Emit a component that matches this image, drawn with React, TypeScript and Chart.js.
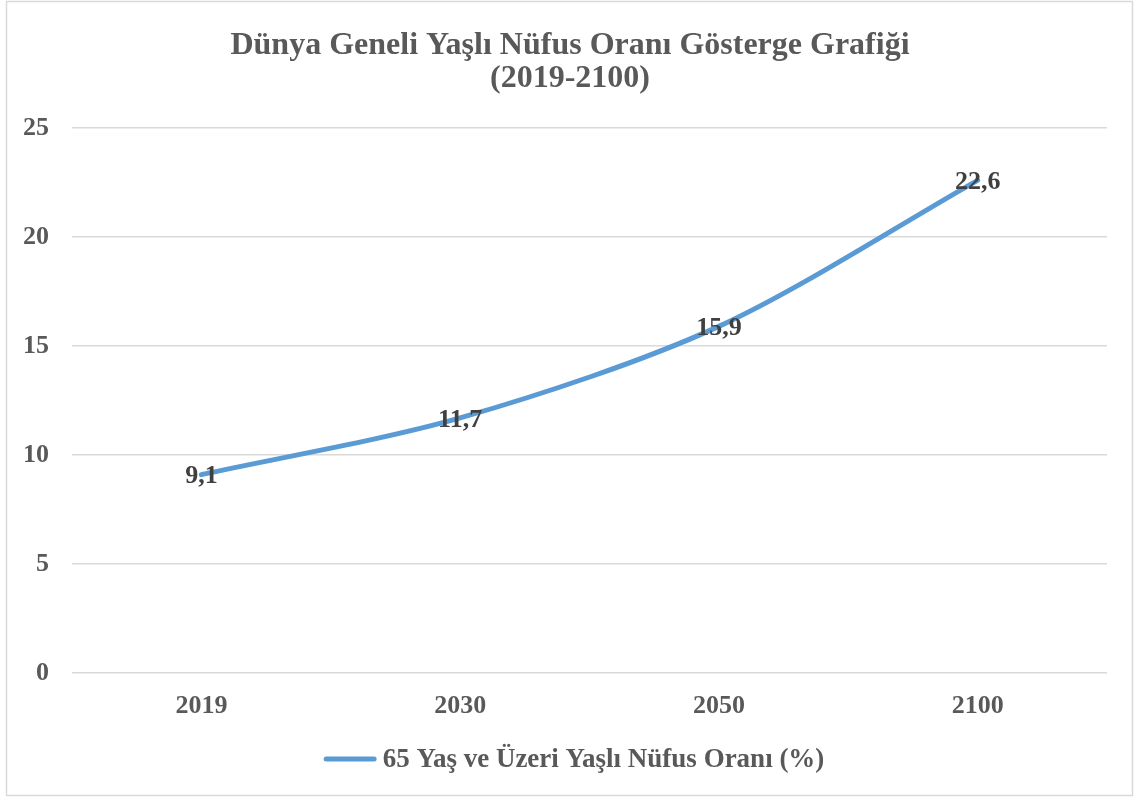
import { useEffect, useRef } from "react";
import { Chart, registerables } from "chart.js";

Chart.register(...registerables);

const years = ["2019", "2030", "2050", "2100"];
const elderlyShare = [9.1, 11.7, 15.9, 22.6];
const yTickValues = [0, 5, 10, 15, 20, 25];
const titleLines = ["Dünya Geneli Yaşlı Nüfus Oranı Gösterge Grafiği", "(2019-2100)"];
const seriesName = "65 Yaş ve Üzeri Yaşlı Nüfus Oranı (%)";

const FONT = "'Liberation Serif', 'Times New Roman', serif";
const LINE_COLOR = "#5B9BD5";
const TEXT_GRAY = "#595959";
const LABEL_DARK = "#404040";
const GRID = "#d9d9d9";

const decorPlugin = {
  id: "decor",
  beforeDraw(chart: any) {
    const ctx = chart.ctx;
    ctx.save();
    ctx.fillStyle = "#ffffff";
    ctx.fillRect(0, 0, chart.width, chart.height);
    ctx.strokeStyle = GRID;
    ctx.lineWidth = 1.5;
    ctx.strokeRect(6.5, 1.5, 1126, 794);
    ctx.restore();
  },
  afterDraw(chart: any) {
    const ctx = chart.ctx;
    ctx.save();
    // title
    ctx.fillStyle = TEXT_GRAY;
    ctx.font = `bold 32px ${FONT}`;
    ctx.textAlign = "center";
    ctx.textBaseline = "middle";
    ctx.fillText(titleLines[0], 570, 46);
    ctx.fillText(titleLines[1], 570, 79);
    // legend
    ctx.font = `bold 27px ${FONT}`;
    const tw = ctx.measureText(seriesName).width;
    const markerLen = 53;
    const gap = 6;
    const total = markerLen + gap + tw;
    const start = 574 - total / 2;
    const ly = 759;
    ctx.strokeStyle = LINE_COLOR;
    ctx.lineWidth = 5;
    ctx.lineCap = "round";
    ctx.beginPath();
    ctx.moveTo(start + 2.5, ly);
    ctx.lineTo(start + markerLen - 2.5, ly);
    ctx.stroke();
    ctx.fillStyle = TEXT_GRAY;
    ctx.textAlign = "left";
    ctx.fillText(seriesName, start + markerLen + gap, ly + 1);
    ctx.restore();
  },
  afterDatasetsDraw(chart: any) {
    const ctx = chart.ctx;
    const meta = chart.getDatasetMeta(0);
    ctx.save();
    ctx.font = `bold 26px ${FONT}`;
    ctx.fillStyle = LABEL_DARK;
    ctx.textAlign = "center";
    ctx.textBaseline = "middle";
    meta.data.forEach((pt: any, i: number) => {
      const v = elderlyShare[i];
      ctx.fillText(v.toFixed(1).replace(".", ","), pt.x, pt.y + 2);
    });
    ctx.restore();
  },
};

export default function App() {
  const ref = useRef<HTMLCanvasElement | null>(null);
  useEffect(() => {
    if (!ref.current) return;
    const chart = new Chart(ref.current, {
      type: "line",
      data: {
        labels: years,
        datasets: [
          {
            label: seriesName,
            data: elderlyShare,
            borderColor: LINE_COLOR,
            backgroundColor: LINE_COLOR,
            borderWidth: 5,
            borderCapStyle: "round",
            tension: 0.3,
            pointRadius: 0,
            pointHoverRadius: 0,
          },
        ],
      },
      plugins: [decorPlugin],
      options: {
        responsive: false,
        animation: false,
        layout: { padding: { top: 128, left: 0, right: 29, bottom: 75 } },
        plugins: {
          legend: { display: false },
          title: { display: false },
          tooltip: { enabled: false },
        },
        scales: {
          x: {
            offset: true,
            grid: { display: false, drawTicks: false },
            border: { display: false },
            ticks: {
              color: TEXT_GRAY,
              font: { family: FONT, size: 26, weight: "bold" },
              padding: 18,
            },
            afterFit(scale: any) {
              scale.height = 50;
            },
          },
          y: {
            min: 0,
            max: 25,
            afterBuildTicks(scale: any) {
              scale.ticks = yTickValues.map((v) => ({ value: v }));
            },
            grid: { color: GRID, lineWidth: 1.5, drawTicks: false },
            border: { display: false },
            ticks: {
              color: TEXT_GRAY,
              font: { family: FONT, size: 26, weight: "bold" },
              padding: 23,
            },
            afterFit(scale: any) {
              scale.width = 72;
            },
          },
        },
      },
    } as any);
    return () => chart.destroy();
  }, []);
  return (
    <div style={{ position: "fixed", left: 0, top: 0, width: 1136, height: 798, background: "#fff" }}>
      <canvas ref={ref} width={1136} height={798} style={{ display: "block" }} />
    </div>
  );
}
